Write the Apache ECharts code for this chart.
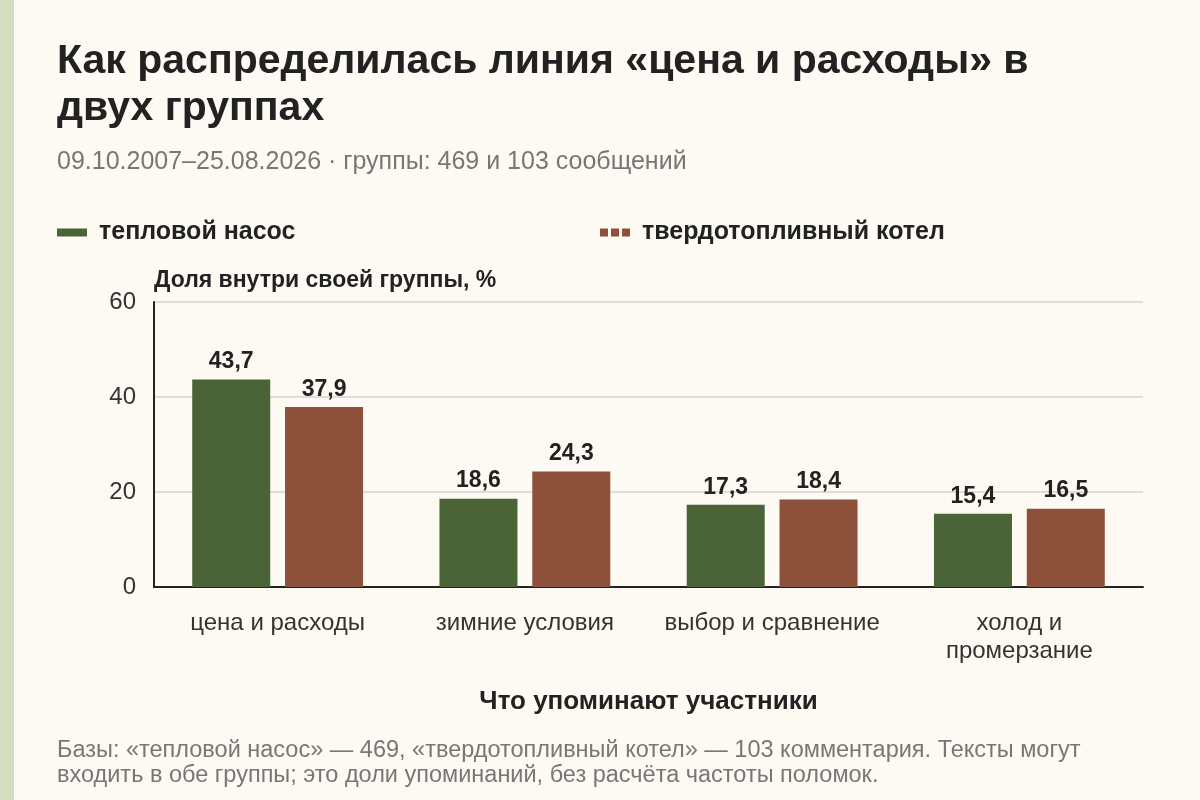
<!DOCTYPE html>
<html>
<head>
<meta charset="utf-8">
<script src="https://cdn.jsdelivr.net/npm/echarts@6/dist/echarts.min.js"></script>
<style>
  html, body { margin: 0; padding: 0; background: #fcfaf2; }
  #main { width: 1200px; height: 800px; }
</style>
</head>
<body>
<div id="main"></div>
<script>
var categories = ['цена и расходы', 'зимние условия', 'выбор и сравнение', 'холод и\nпромерзание'];
var heatPump = [43.7, 18.6, 17.3, 15.4];
var solidFuel = [37.9, 24.3, 18.4, 16.5];
var yTicks = { min: 0, max: 60, interval: 20 };

var green = '#4a6337';
var brown = '#8d503a';
var font = 'Liberation Sans, Arial, sans-serif';

var myChart = echarts.init(document.getElementById('main'));

function fmt(p) {
    return String(p.value).replace('.', ',');
}

var option = {
    backgroundColor: '#fcfaf2',
    textStyle: { fontFamily: font },
    graphic: [{
        type: 'rect',
        left: 0,
        top: 0,
        shape: { width: 14, height: 800 },
        style: { fill: '#d4dfc0' }
    }],
    title: [{
        text: 'Как распределилась линия «цена и расходы» в\nдвух группах',
        left: 57,
        top: 38,
        padding: 0,
        textStyle: { fontSize: 41, fontWeight: 'bold', color: '#222', lineHeight: 47, fontFamily: font }
    }, {
        text: '09.10.2007–25.08.2026 · группы: 469 и 103 сообщений',
        left: 57,
        top: 150,
        padding: 0,
        textStyle: { fontSize: 25, fontWeight: 'normal', color: '#777', fontFamily: font }
    }, {
        text: 'Базы: «тепловой насос» — 469, «твердотопливный котел» — 103 комментария. Тексты могут\nвходить в обе группы; это доли упоминаний, без расчёта частоты поломок.',
        left: 57,
        top: 738,
        padding: 0,
        textStyle: { fontSize: 23.5, fontWeight: 'normal', color: '#777', lineHeight: 25, fontFamily: font }
    }],
    legend: [{
        left: 57,
        top: 220,
        padding: 0,
        data: [{ name: 'тепловой насос', icon: 'rect' }],
        itemWidth: 30,
        itemHeight: 8,
        textStyle: { fontSize: 25, fontWeight: 'bold', color: '#222', padding: [0, 0, 0, 7] }
    }, {
        left: 600,
        top: 220,
        padding: 0,
        data: [{
            name: 'твердотопливный котел',
            icon: 'path://M0,0H8V8H0Z M11,0H19V8H11Z M22,0H30V8H22Z'
        }],
        itemWidth: 30,
        itemHeight: 8,
        textStyle: { fontSize: 25, fontWeight: 'bold', color: '#222', padding: [0, 0, 0, 7] }
    }],
    grid: {
        left: 154,
        right: 57,
        top: 302,
        bottom: 213
    },
    xAxis: {
        type: 'category',
        data: categories,
        name: 'Что упоминают участники',
        nameLocation: 'middle',
        nameGap: 102,
        nameTextStyle: { fontSize: 26, fontWeight: 'bold', color: '#222' },
        axisLine: { lineStyle: { color: '#222', width: 2 } },
        axisTick: { alignWithLabel: true, length: 5, lineStyle: { color: '#222' } },
        axisLabel: { interval: 0, fontSize: 24, color: '#333', margin: 22, lineHeight: 28 }
    },
    yAxis: {
        type: 'value',
        min: yTicks.min,
        max: yTicks.max,
        interval: yTicks.interval,
        name: 'Доля внутри своей группы, %',
        nameLocation: 'end',
        nameGap: 10,
        nameTextStyle: { fontSize: 23, fontWeight: 'bold', color: '#222', align: 'left' },
        axisLine: { show: true, lineStyle: { color: '#222', width: 2 } },
        axisTick: { show: false },
        axisLabel: { fontSize: 24, color: '#333', margin: 18 },
        splitLine: { lineStyle: { color: '#d6d3cc', width: 1.5 } }
    },
    series: [{
        name: 'тепловой насос',
        type: 'bar',
        data: heatPump,
        barWidth: 78,
        barGap: '19%',
        itemStyle: { color: green },
        label: { show: true, position: 'top', formatter: fmt, fontSize: 23, fontWeight: 'bold', color: '#222', distance: 6 }
    }, {
        name: 'твердотопливный котел',
        type: 'bar',
        data: solidFuel,
        barWidth: 78,
        itemStyle: { color: brown },
        label: { show: true, position: 'top', formatter: fmt, fontSize: 23, fontWeight: 'bold', color: '#222', distance: 6 }
    }]
};

myChart.setOption(option);
</script>
</body>
</html>
